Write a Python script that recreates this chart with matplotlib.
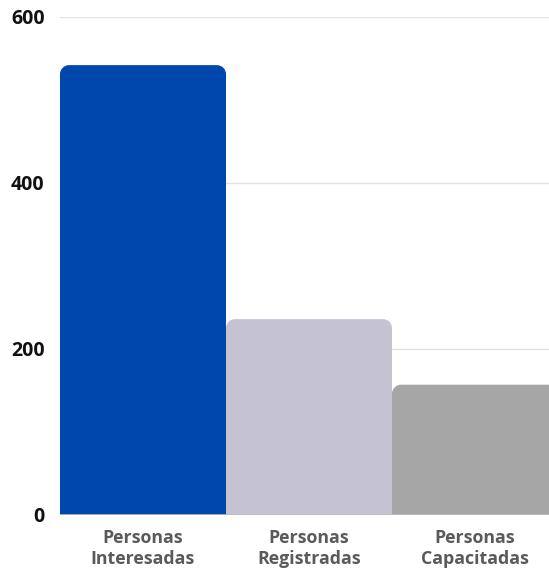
import matplotlib
matplotlib.use("Agg")
import matplotlib.pyplot as plt
from matplotlib.path import Path
from matplotlib.patches import PathPatch

categories = ["Personas\nInteresadas", "Personas\nRegistradas", "Personas\nCapacitadas"]
values = [542, 236, 157]
colors = ["#0047AB", "#C5C2D2", "#A6A6A6"]
yticks = [0, 200, 400, 600]

W, H = 549, 571
fig = plt.figure(figsize=(W / 100, H / 100), dpi=100)
ax_w_px = 498
ax = fig.add_axes([60 / W, 56 / H, ax_w_px / W, 498 / H])
ax.set_xlim(-0.5, 2.5)
ax.set_ylim(0, 600)

x_per_px = 3.0 / ax_w_px
y_per_px = 600.0 / 498
r = 9

bars = ax.bar(range(len(values)), values, width=1.0, color=colors, zorder=2)
for b in bars:
    x0, y0 = b.get_x(), b.get_y()
    w, h = b.get_width(), b.get_height()
    rx, ry = r * x_per_px, r * y_per_px
    x1, y1 = x0 + w, y0 + h
    k = 0.5523
    verts = [
        (x0, y0), (x0, y1 - ry),
        (x0, y1 - ry + k * ry), (x0 + rx - k * rx, y1), (x0 + rx, y1),
        (x1 - rx, y1),
        (x1 - rx + k * rx, y1), (x1, y1 - ry + k * ry), (x1, y1 - ry),
        (x1, y0), (x0, y0),
    ]
    codes = [Path.MOVETO, Path.LINETO,
             Path.CURVE4, Path.CURVE4, Path.CURVE4,
             Path.LINETO,
             Path.CURVE4, Path.CURVE4, Path.CURVE4,
             Path.LINETO, Path.CLOSEPOLY]
    patch = PathPatch(Path(verts, codes), facecolor=b.get_facecolor(),
                      edgecolor="none", zorder=2)
    b.set_visible(False)
    ax.add_patch(patch)

ax.set_yticks(yticks)
ax.set_yticklabels([str(t) for t in yticks], fontfamily="Open Sans",
                   fontweight="bold", fontsize=14, color="#111111")
ax.set_xticks(range(len(categories)))
ax.set_xticklabels(categories, fontfamily="Open Sans", fontweight="bold",
                   fontsize=12.8, color="#5a5a5a", linespacing=1.25)
ax.tick_params(axis="both", length=0)
ax.tick_params(axis="y", pad=11)
ax.tick_params(axis="x", pad=10)
for s in ax.spines.values():
    s.set_visible(False)
for t in yticks[1:]:
    ax.axhline(t, color="#e2e2e2", linewidth=1, zorder=1)
ax.axhline(0, color="#bdbdbd", linewidth=1.2, zorder=3)

fig.savefig("out.png", dpi=100)
